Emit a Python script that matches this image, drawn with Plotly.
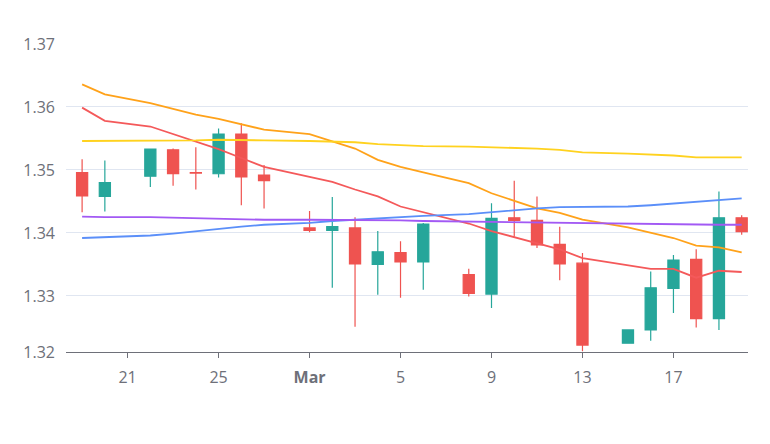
import plotly.graph_objects as go

dates = ["2021-02-19", "2021-02-20", "2021-02-22", "2021-02-23", "2021-02-24", "2021-02-25",
         "2021-02-26", "2021-02-27", "2021-03-01", "2021-03-02", "2021-03-03", "2021-03-04",
         "2021-03-05", "2021-03-06", "2021-03-08", "2021-03-09", "2021-03-10", "2021-03-11",
         "2021-03-12", "2021-03-13", "2021-03-15", "2021-03-16", "2021-03-17", "2021-03-18",
         "2021-03-19", "2021-03-20"]

open_ = [1.3496, 1.3458, 1.3490, 1.3532, 1.3496, 1.3494, 1.3557, 1.3492, 1.3408, 1.3404,
         1.3408, 1.3350, 1.3369, 1.3354, 1.3334, 1.3303, 1.3424, 1.3420, 1.3382, 1.3352,
         1.3225, 1.3246, 1.3312, 1.3358, 1.3264, 1.3424]
high = [1.3517, 1.3515, 1.3533, 1.3534, 1.3536, 1.3566, 1.3574, 1.3508, 1.3435, 1.3457,
        1.3425, 1.3403, 1.3387, 1.3416, 1.3343, 1.3447, 1.3483, 1.3458, 1.3410, 1.3368,
        1.3247, 1.3339, 1.3365, 1.3374, 1.3466, 1.3428]
low = [1.3433, 1.3434, 1.3473, 1.3475, 1.3469, 1.3488, 1.3444, 1.3439, 1.3401, 1.3313,
       1.3251, 1.3302, 1.3297, 1.3310, 1.3299, 1.3281, 1.3394, 1.3376, 1.3325, 1.3212,
       1.3224, 1.3229, 1.3273, 1.3250, 1.3246, 1.3397]
close = [1.3459, 1.3480, 1.3533, 1.3494, 1.3495, 1.3557, 1.3489, 1.3483, 1.3404, 1.3410,
         1.3351, 1.3370, 1.3354, 1.3414, 1.3304, 1.3423, 1.3420, 1.3381, 1.3351, 1.3222,
         1.3246, 1.3313, 1.3357, 1.3264, 1.3424, 1.3402]

ma_red = [1.3599, 1.3578, 1.3569, 1.3557, 1.3546, 1.3533, 1.3519, 1.3505, 1.3489, 1.3481,
          1.3469, 1.3458, 1.3442, 1.3433, 1.3415, 1.3403, 1.3393, 1.3383, 1.3374, 1.3360,
          1.3349, 1.3343, 1.3343, 1.3329, 1.3340, 1.3338]
ma_orange = [1.3636, 1.3620, 1.3606, 1.3597, 1.3588, 1.3581, 1.3573, 1.3564, 1.3557, 1.3546,
             1.3534, 1.3516, 1.3505, 1.3496, 1.3479, 1.3463, 1.3451, 1.3439, 1.3432, 1.3421,
             1.3409, 1.3400, 1.3392, 1.3380, 1.3377, 1.3369]
ma_yellow = [1.3546, 1.3546, 1.3547, 1.3547, 1.3547, 1.3548, 1.3548, 1.3547, 1.3546, 1.3545,
             1.3544, 1.3541, 1.3539, 1.3538, 1.3537, 1.3536, 1.3536, 1.3534, 1.3532, 1.3528,
             1.3526, 1.3525, 1.3523, 1.3520, 1.3520, 1.3520]
ma_blue = [1.3392, 1.3393, 1.3396, 1.3399, 1.3403, 1.3406, 1.3410, 1.3413, 1.3416, 1.3419,
           1.3421, 1.3424, 1.3425, 1.3427, 1.3430, 1.3433, 1.3437, 1.3439, 1.3441, 1.3441,
           1.3442, 1.3444, 1.3447, 1.3450, 1.3452, 1.3455]
ma_purple = [1.3426, 1.3425, 1.3425, 1.3424, 1.3423, 1.3422, 1.3422, 1.3421, 1.3421, 1.3421,
             1.3420, 1.3420, 1.3420, 1.3419, 1.3418, 1.3418, 1.3417, 1.3416, 1.3416, 1.3415,
             1.3415, 1.3414, 1.3414, 1.3413, 1.3413, 1.3413]

x_tick_vals = ["2021-02-21", "2021-02-25", "2021-03-01", "2021-03-05", "2021-03-09",
               "2021-03-13", "2021-03-17"]
x_tick_text = ["21", "25", "<b>Mar</b>", "5", "9", "13", "17"]
y_tick_vals = [1.3211, 1.33, 1.34, 1.35, 1.36, 1.37]
y_tick_text = ["1.32", "1.33", "1.34", "1.35", "1.36", "1.37"]

UP = "#26A69A"
DOWN = "#EF5350"

fig = go.Figure()
fig.add_trace(go.Candlestick(
    x=dates, open=open_, high=high, low=low, close=close,
    increasing=dict(line=dict(color=UP, width=1.2), fillcolor=UP),
    decreasing=dict(line=dict(color=DOWN, width=1.2), fillcolor=DOWN),
    whiskerwidth=0, showlegend=False,
))

lines = [
    (ma_red, "#F4595A"),
    (ma_orange, "#FFA21A"),
    (ma_yellow, "#FFD21F"),
    (ma_blue, "#5B8FF9"),
    (ma_purple, "#A259F4"),
]
for vals, col in lines:
    fig.add_trace(go.Scatter(x=dates, y=vals, mode="lines",
                             line=dict(color=col, width=1.8), showlegend=False,
                             hoverinfo="skip"))

font = dict(family="Open Sans, Noto Sans, sans-serif", size=16, color="#6E7079")

fig.update_layout(
    width=770, height=444,
    margin=dict(l=65.5, r=22, t=44, b=92),
    paper_bgcolor="white", plot_bgcolor="white",
    font=font,
    xaxis=dict(
        type="date",
        range=["2021-02-18 07:00", "2021-03-20 06:40"],
        rangeslider=dict(visible=False),
        tickvals=x_tick_vals, ticktext=x_tick_text,
        ticks="outside", ticklen=5, tickcolor="#6E7079", tickwidth=1,
        showline=True, linecolor="#6E7079", linewidth=1.2,
        showgrid=False, zeroline=False,
        tickfont=font, ticklabelstandoff=6,
    ),
    yaxis=dict(
        range=[1.3211, 1.37],
        tickvals=y_tick_vals, ticktext=y_tick_text,
        showgrid=True, gridcolor="#E0E6F1", gridwidth=1,
        zeroline=False, showline=False, ticks="",
        tickfont=font, ticklabelstandoff=10,
    ),
)

fig.write_html("out.html")
